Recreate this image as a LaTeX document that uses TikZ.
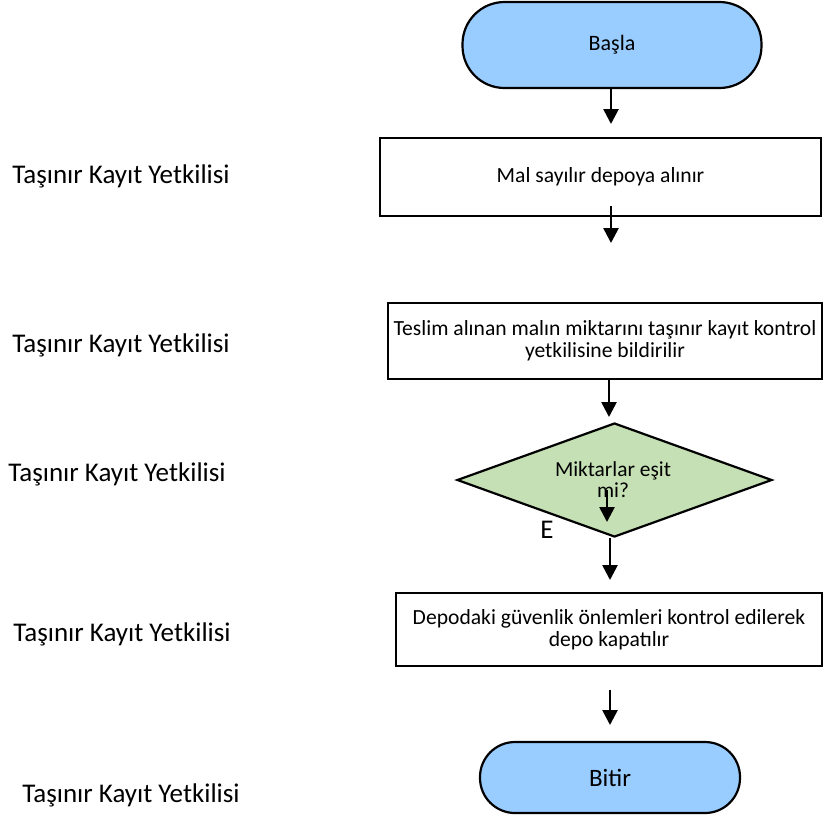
\documentclass[tikz,border=0pt]{standalone}
\usepackage{fontspec}
\setmainfont{Carlito}
\usetikzlibrary{arrows.meta,shapes.geometric}
\definecolor{termblue}{RGB}{153,204,255}
\definecolor{decgreen}{RGB}{197,224,180}
\tikzset{
  terminal/.style={draw=black, line width=1.1pt, fill=termblue, rectangle, rounded corners=#1, inner sep=0pt},
  process/.style={draw=black, line width=1.1pt, fill=white, rectangle, inner sep=0pt, align=center, font=\fontsize{10.8}{10.8}\selectfont},
  decision/.style={draw=black, line width=1.1pt, fill=decgreen, diamond, inner sep=0pt},
  role/.style={font=\fontsize{13.5}{15}\selectfont, inner sep=0pt},
  flow/.style={-{Triangle[length=7.5pt,width=7.5pt]}, line width=1.3pt}
}
\begin{document}
\begin{tikzpicture}[x=0.5pt, y=-0.5pt]
  \useasboundingbox (0,0) rectangle (824,816);

  % flowchart shapes
  \node[terminal=21pt, minimum width=149.5pt, minimum height=43pt, font=\fontsize{11}{12}\selectfont] (start) at (612,45) {Başla};
  \node[process, minimum width=220.5pt, minimum height=39pt] (receive) at (600.5,177) {Mal sayılır depoya alınır};
  \node[process, minimum width=217pt, minimum height=38pt] (report) at (605,341) {Teslim alınan malın miktarını taşınır kayıt kontrol\\yetkilisine bildirilir};
  \node[decision, minimum width=157.5pt, minimum height=57pt] (check) at (614.5,480) {};
  \node[align=center, inner sep=0pt, font=\fontsize{10.7}{10.5}\selectfont] (checktext) at (613,480) {Miktarlar eşit\\mi?};
  \node[font=\fontsize{13.5}{15}\selectfont, inner sep=0pt] (yes) at (547,530) {E};
  \node[process, minimum width=213pt, minimum height=36.5pt] (close) at (609,629.5) {Depodaki güvenlik önlemleri kontrol edilerek\\depo kapatılır};
  \node[terminal=17.5pt, minimum width=130pt, minimum height=35.5pt, font=\fontsize{12.5}{14}\selectfont] (finish) at (610,777.5) {Bitir};

  % responsible role for each step
  \node[role] (r1) at (121,176) {Taşınır Kayıt Yetkilisi};
  \node[role] (r2) at (121,345) {Taşınır Kayıt Yetkilisi};
  \node[role] (r3) at (117,474) {Taşınır Kayıt Yetkilisi};
  \node[role] (r4) at (122,634) {Taşınır Kayıt Yetkilisi};
  \node[role] (r5) at (131,795) {Taşınır Kayıt Yetkilisi};

  % arrow end points
  \coordinate (a1) at (611,124);
  \coordinate (a2s) at (611,206);
  \coordinate (a2) at (611,243);
  \coordinate (a3) at (609,417);
  \coordinate (a4s) at (607,490);
  \coordinate (a4) at (607,522);
  \coordinate (a5s) at (610,538);
  \coordinate (a5) at (610,580);
  \coordinate (a6s) at (610,690);
  \coordinate (a6) at (610,725);

  % connectors
  \draw[flow] (start.south -| a1) -- (a1);
  \draw[flow] (a2s) -- (a2);
  \draw[flow] (report.south -| a3) -- (a3);
  \draw[flow] (a4s) -- (a4);
  \draw[flow] (a5s) -- (a5);
  \draw[flow] (a6s) -- (a6);
\end{tikzpicture}
\end{document}
